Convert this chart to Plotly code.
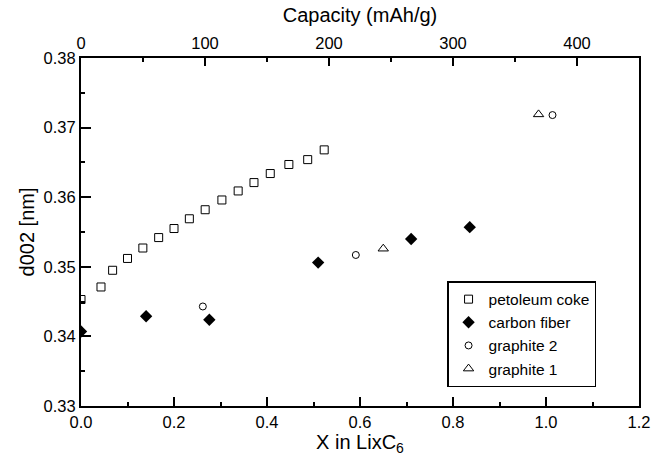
import plotly.graph_objects as go

# petroleum coke (open squares)
coke_x = [0.0, 0.043, 0.068, 0.100, 0.133, 0.167, 0.200, 0.233, 0.267, 0.303, 0.338, 0.372, 0.407, 0.447, 0.4875, 0.523]
coke_y = [0.3453, 0.3471, 0.3495, 0.3512, 0.3527, 0.3542, 0.3555, 0.3569, 0.3582, 0.3596, 0.3609, 0.3621, 0.3634, 0.3647, 0.3654, 0.3668]
# carbon fiber (filled diamonds)
fiber_x = [0.0, 0.140, 0.276, 0.510, 0.710, 0.836]
fiber_y = [0.3407, 0.3429, 0.3424, 0.3506, 0.3540, 0.3557]
# graphite 2 (open circles)
g2_x = [0.262, 0.591, 1.014]
g2_y = [0.3443, 0.3517, 0.3718]
# graphite 1 (open triangles)
g1_x = [0.650, 0.984]
g1_y = [0.3526, 0.3719]
# top axis (capacity) tick values
capacity_ticks = [0, 100, 200, 300, 400]

FONT = "Liberation Sans, Arial, sans-serif"
TICK = 16.5
TITLE = 20

fig = go.Figure()
fig.add_trace(go.Scatter(x=coke_x, y=coke_y, mode="markers", name="petoleum coke",
                         marker=dict(symbol="square-open", size=8, color="black", line=dict(width=1))))
fig.add_trace(go.Scatter(x=fiber_x, y=fiber_y, mode="markers", name="carbon fiber",
                         marker=dict(symbol="diamond", size=9.5, color="black")))
fig.add_trace(go.Scatter(x=g2_x, y=g2_y, mode="markers", name="graphite 2",
                         marker=dict(symbol="circle-open", size=7, color="black", line=dict(width=1))))
fig.add_trace(go.Scatter(x=g1_x, y=g1_y, mode="markers", name="graphite 1",
                         marker=dict(symbol="triangle-up-open", size=9, color="black", line=dict(width=1))))
# invisible trace so the top (capacity) axis is drawn
fig.add_trace(go.Scatter(x=capacity_ticks, y=[None] * len(capacity_ticks), xaxis="x2",
                         mode="markers", showlegend=False, hoverinfo="skip"))

fig.update_layout(
    width=663, height=463,
    margin=dict(l=81, r=24, t=58, b=57),
    paper_bgcolor="white", plot_bgcolor="white",
    font=dict(family=FONT, size=TICK, color="black"),
    showlegend=True,
    legend=dict(x=0.656, y=0.359, xanchor="left", yanchor="top",
                bordercolor="black", borderwidth=1.5, bgcolor="white",
                font=dict(size=15.5, family=FONT), tracegroupgap=0,
                itemsizing="trace"),
    xaxis=dict(range=[0, 1.2], dtick=0.2, tickformat=".1f",
               showline=True, linecolor="black", linewidth=2,
               ticks="inside", ticklen=9, tickwidth=2, tickcolor="black",
               minor=dict(ticks="inside", ticklen=4, tickwidth=1.5, dtick=0.1, tickcolor="black"),
               showgrid=False, zeroline=False,
               tickfont=dict(size=TICK),
               title=dict(text="X in LixC<sub>6</sub>", font=dict(size=TITLE), standoff=5)),
    xaxis2=dict(range=[0, 450], dtick=100, overlaying="x", side="top", anchor="y",
                showline=True, linecolor="black", linewidth=2,
                ticks="inside", ticklen=8, tickwidth=2, tickcolor="black",
                minor=dict(ticks="inside", ticklen=4, tickwidth=1.5, dtick=50, tickcolor="black"),
                showgrid=False, zeroline=False,
                tickfont=dict(size=TICK),
                title=dict(text="Capacity (mAh/g)", font=dict(size=TITLE), standoff=6)),
    yaxis=dict(range=[0.33, 0.38], dtick=0.01, tickformat=".2f",
               showline=True, linecolor="black", linewidth=2, mirror=True,
               ticks="inside", ticklen=10, tickwidth=2, tickcolor="black",
               minor=dict(ticks="inside", ticklen=4, tickwidth=1.5, dtick=0.005, tickcolor="black"),
               showgrid=False, zeroline=False,
               tickfont=dict(size=TICK),
               title=dict(text="d002 [nm]", font=dict(size=TITLE), standoff=4)),
)

fig.write_html("out.html",
               config={"displayModeBar": False},
               post_script="document.documentElement.style.margin='0';"
                           "document.body.style.margin='0';"
                           "document.body.style.overflow='hidden';")
